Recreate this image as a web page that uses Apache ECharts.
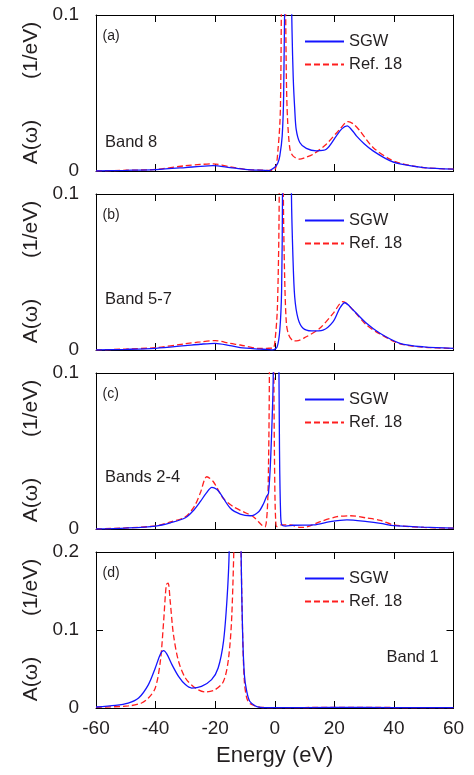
<!DOCTYPE html>
<html>
<head>
<meta charset="utf-8">
<script src="https://cdn.jsdelivr.net/npm/echarts@6/dist/echarts.min.js"></script>
<style>
html,body{margin:0;padding:0;background:#fff;}
#chart{width:474px;height:775px;}
</style>
</head>
<body>
<div id="chart"></div>
<script>
// ---- data (energy in eV, A(w) in 1/eV) ----
const xTicks = [-60, -40, -20, 0, 20, 40, 60];
const seriesNames = ['SGW', 'Ref. 18'];
const panelLabels = ['(a)', '(b)', '(c)', '(d)'];
const bandLabels = ['Band 8', 'Band 5-7', 'Bands 2-4', 'Band 1'];
const yMaxes = [0.1, 0.1, 0.1, 0.2];

// Panel (a) Band 8
const aBlueX = [-60,-50,-40,-30,-25,-20.7,-15,-10,-5,-2,0,1,1.7,2.5,3.0,3.5,4.5,5.4,5.8,6.2,6.7,7.2,8.4,10.6,14,17.3,20.7,22.5,24.3,26,27.4,30,33,38.6,42,50,60];
const aBlueY = [0,0.0004,0.0009,0.0022,0.003,0.0034,0.0022,0.0011,0.0005,0.0003,0.0024,0.005,0.0097,0.0225,0.05,0.15,0.5,0.14,0.09,0.06,0.04,0.0267,0.0183,0.0145,0.0129,0.0139,0.0225,0.027,0.0289,0.026,0.0225,0.0175,0.0129,0.0066,0.0045,0.0022,0.0012];
const aRedX = [-60,-50,-40,-30,-25,-20.7,-15,-10,-5,-2,0,1.1,1.9,2.3,2.9,3.5,3.9,4.3,5.1,6.1,8.4,10,12.9,17.3,21.8,24.6,26.5,28.5,33,38.6,42,50,60];
const aRedY = [0,0.0005,0.001,0.0034,0.0042,0.0046,0.0027,0.0011,0.0006,0.0004,0.0008,0.014,0.04,0.15,0.6,0.15,0.06,0.033,0.014,0.0097,0.0076,0.0085,0.0108,0.0172,0.0267,0.0317,0.03,0.0259,0.0151,0.0076,0.005,0.0022,0.0012];

// Panel (b) Band 5-7
const bBlueX = [-60,-50,-40,-30,-25,-20,-15,-11.6,-5,-2.7,-0.6,0.8,1.7,2.3,2.6,3.0,4.0,5.0,5.6,6.1,6.7,7.8,9.5,12.3,16.2,19.6,21.8,23.5,26.3,30.8,35.3,42,50,60];
const bBlueY = [0,0.0004,0.0011,0.0028,0.0037,0.0043,0.0028,0.0015,0.0006,0.0004,0.0001,0.002,0.0128,0.038,0.1,0.3,0.8,0.25,0.1,0.06,0.034,0.0203,0.0139,0.0122,0.0128,0.0182,0.0267,0.0303,0.0256,0.0171,0.0107,0.0043,0.002,0.0011];
const bRedX = [-60,-50,-40,-30,-25,-20,-15,-11.6,-5,-2.7,-0.6,0,0.9,1.5,2.2,2.9,3.3,3.9,4.7,6.1,7.3,10.6,15.1,19.6,22.9,26.3,30.8,35.3,42,50,60];
const bRedY = [0,0.0006,0.0015,0.004,0.0052,0.006,0.0042,0.0032,0.001,0.0011,0.0012,0.0043,0.0278,0.1,0.6,0.1,0.049,0.0171,0.0096,0.006,0.0058,0.0085,0.0139,0.0235,0.031,0.0256,0.016,0.0103,0.004,0.0018,0.001];

// Panel (c) Bands 2-4
const cBlueX = [-60,-50,-40,-35,-30,-27,-25,-23,-21.1,-19.5,-18.3,-14.9,-11.6,-8.2,-5.4,-3.7,-2.8,-2.1,-1.3,-0.5,0,0.5,1.0,1.3,1.6,2.0,2.4,3.6,6.3,13,18.6,24.2,31,35.5,40,50,60];
const cBlueY = [0,0.0006,0.0019,0.004,0.0072,0.0125,0.0175,0.023,0.0267,0.0255,0.0229,0.0133,0.0096,0.0085,0.0111,0.0165,0.0207,0.0229,0.0485,0.1,0.4,0.8,0.4,0.15,0.05,0.008,0.0026,0.0019,0.0024,0.0026,0.0047,0.0058,0.0047,0.0036,0.0021,0.0012,0.0005];
const cRedX = [-60,-50,-40,-35,-30,-27,-25,-22.8,-20.6,-17.3,-13.9,-10.6,-7.2,-4.4,-3.3,-2.5,-2.1,-1.8,-1.0,-0.3,0,0.3,0.7,1.9,5.2,8.6,10.8,15.3,20.9,25.4,31,35.5,40,50,60];
const cRedY = [0,0.0007,0.002,0.0045,0.0078,0.0145,0.023,0.0335,0.0303,0.0197,0.0143,0.0111,0.0079,0.0026,0.0013,0.0122,0.04,0.1,0.6,0.1,0.03,0.006,0.0015,0.0026,0.0026,0.001,0.0013,0.0047,0.0079,0.0085,0.007,0.0055,0.0026,0.001,0.0005];

// Panel (d) Band 1
const dBlueX = [-60,-53.5,-49.2,-45.7,-42.4,-40.1,-38.4,-37.3,-36.2,-34.5,-32.3,-30,-27.9,-24.6,-21.2,-19,-17.2,-16,-15.3,-14,-13,-12,-11.3,-10.8,-10.2,-9.4,-8.4,-6.5,-4.8,0,20,40,60];
const dBlueY = [0.0013,0.0034,0.0064,0.0128,0.03,0.0513,0.069,0.0735,0.069,0.0556,0.0406,0.03,0.0256,0.0278,0.0363,0.0513,0.0855,0.141,0.2,0.5,0.9,0.5,0.2,0.098,0.0427,0.0214,0.0086,0.0026,0.0009,0.0004,0.0008,0.0006,0.0004];
const dRedX = [-60,-49.2,-44.7,-42.4,-40.1,-38.4,-37.3,-36.4,-35.8,-35.1,-34,-32.3,-30,-26.7,-23.3,-20,-17.2,-15.5,-14.4,-13.5,-12.5,-11.5,-10.8,-10.2,-9.4,-8.4,-6.5,-4.8,0,20,40,60];
const dRedY = [0.0009,0.0026,0.0064,0.0128,0.0256,0.06,0.111,0.158,0.16,0.137,0.094,0.06,0.0385,0.0256,0.0205,0.0235,0.0342,0.064,0.12,0.25,0.6,0.25,0.098,0.0342,0.0128,0.006,0.0026,0.0009,0.0004,0.0008,0.0006,0.0004];

const panels = [
  {blue: [aBlueX, aBlueY], red: [aRedX, aRedY]},
  {blue: [bBlueX, bBlueY], red: [bRedX, bRedY]},
  {blue: [cBlueX, cBlueY], red: [cRedX, cRedY]},
  {blue: [dBlueX, dBlueY], red: [dRedX, dRedY]}
];

// ---- layout ----
const FONT = '"Liberation Sans", Arial, Helvetica, sans-serif';
const TXT = '#231f20';
const gridTops = [15, 194, 373, 552];
const GH = 156, GL = 96, GW = 357.5;
const BLUE = '#1414ff', RED = '#ff1e1e';

const zip = (xs, ys) => xs.map((x, i) => [x, ys[i]]);

const grid = [], xAxis = [], yAxis = [], series = [], legend = [], graphic = [];
panels.forEach((p, i) => {
  const top = gridTops[i];
  grid.push({left: GL, top: top, width: GW, height: GH, containLabel: false});
  const axLine = {show: true, onZero: false, lineStyle: {color: '#000', width: 1}};
  const tick = {show: true, inside: true, length: 7, lineStyle: {color: '#000', width: 1}};
  const last = i === panels.length - 1;
  xAxis.push({
    type: 'value', gridIndex: i, position: 'bottom', min: -60, max: 60, interval: 20,
    axisLine: axLine, axisTick: tick, splitLine: {show: false},
    axisLabel: {show: last, fontSize: 19, color: TXT, fontFamily: FONT, margin: 11},
    name: last ? 'Energy (eV)' : '', nameLocation: 'middle', nameGap: 37,
    nameTextStyle: {fontSize: 22, color: TXT, fontFamily: FONT}
  });
  xAxis.push({
    type: 'value', gridIndex: i, position: 'top', min: -60, max: 60, interval: 20,
    axisLine: axLine, axisTick: tick, splitLine: {show: false}, axisLabel: {show: false}
  });
  yAxis.push({
    type: 'value', gridIndex: i, position: 'left', min: 0, max: yMaxes[i], interval: 0.1,
    axisLine: axLine, axisTick: tick, splitLine: {show: false},
    axisLabel: {fontSize: 19, color: TXT, fontFamily: FONT, margin: 17},
    name: 'A(\u03c9)       (1/eV)', nameLocation: 'middle', nameGap: 53,
    nameTextStyle: {fontSize: 21, color: TXT, fontFamily: FONT}
  });
  yAxis.push({
    type: 'value', gridIndex: i, position: 'right', min: 0, max: yMaxes[i], interval: 0.1,
    axisLine: axLine, axisTick: tick, splitLine: {show: false}, axisLabel: {show: false}
  });
  series.push({
    name: seriesNames[1], type: 'line', xAxisIndex: 2 * i, yAxisIndex: 2 * i,
    data: zip(p.red[0], p.red[1]), symbol: 'none', showSymbol: false, smooth: 0.3,
    clip: true, animation: false,
    lineStyle: {color: RED, width: 1.3, type: [6, 3]}, itemStyle: {color: RED}
  });
  series.push({
    name: seriesNames[0], type: 'line', xAxisIndex: 2 * i, yAxisIndex: 2 * i,
    data: zip(p.blue[0], p.blue[1]), symbol: 'none', showSymbol: false, smooth: 0.3,
    clip: true, animation: false,
    lineStyle: {color: BLUE, width: 1.3}, itemStyle: {color: BLUE}
  });
  legend.push({
    data: seriesNames, orient: 'vertical', left: 304, top: top + 18, padding: 0,
    itemWidth: 39, itemHeight: 14, itemGap: 6, selectedMode: false,
    itemStyle: {opacity: 0, borderWidth: 0},
    textStyle: {fontSize: 16.5, color: TXT, fontFamily: FONT, lineHeight: 17}
  });
  graphic.push({
    type: 'text', x: 102.5, y: top + 21,
    style: {text: panelLabels[i], fontSize: 14, fontFamily: FONT, fill: TXT, verticalAlign: 'middle'}
  });
});
graphic.push({type: 'text', x: 105, y: 142.5, style: {text: bandLabels[0], fontSize: 16.5, fontFamily: FONT, fill: TXT, verticalAlign: 'middle'}});
graphic.push({type: 'text', x: 105, y: 299, style: {text: bandLabels[1], fontSize: 16.5, fontFamily: FONT, fill: TXT, verticalAlign: 'middle'}});
graphic.push({type: 'text', x: 105, y: 477.5, style: {text: bandLabels[2], fontSize: 16.5, fontFamily: FONT, fill: TXT, verticalAlign: 'middle'}});
graphic.push({type: 'text', x: 386.5, y: 657.5, style: {text: bandLabels[3], fontSize: 16.5, fontFamily: FONT, fill: TXT, verticalAlign: 'middle'}});

const chart = echarts.init(document.getElementById('chart'), null, {renderer: 'canvas'});
chart.setOption({
  backgroundColor: '#fff',
  animation: false,
  grid, xAxis, yAxis, series, legend, graphic
});
</script>
</body>
</html>
